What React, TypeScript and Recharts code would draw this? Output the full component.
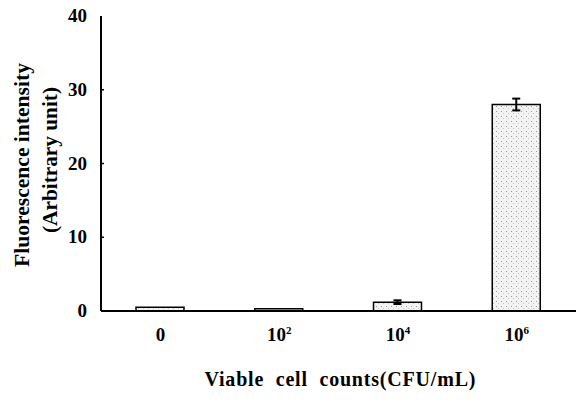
import { BarChart, Bar, XAxis, YAxis, ErrorBar } from "recharts";

const CATEGORIES = ["0", "10", "10", "10"];
const EXPONENTS = ["", "2", "4", "6"];
const VALUES = [0.5, 0.3, 1.2, 28.0];
const ERRORS = [0, 0, 0.25, 0.8];
const Y_TICKS = [0, 10, 20, 30, 40];

const data = CATEGORIES.map((c, i) => ({
  key: `c${i}`,
  base: c,
  exp: EXPONENTS[i],
  value: VALUES[i],
  err: ERRORS[i],
}));

const FONT = { fontFamily: "Liberation Serif, Times New Roman, serif", fontWeight: 700 };

function YTick({ x, y, payload }: { x?: number; y?: number; payload?: { value: number } }) {
  if (x == null || y == null || !payload) return null;
  return (
    <g>
      {payload.value > 0 && payload.value < 40 && (
        <line x1={x + 14} x2={x + 17} y1={y} y2={y} stroke="#000" strokeWidth={1.5} />
      )}
      <text x={x} y={y} dy={6} textAnchor="end" style={{ ...FONT, fontSize: 19 }} fill="#000">
        {payload.value}
      </text>
    </g>
  );
}

function XTick({ x, y, index }: { x?: number; y?: number; index?: number }) {
  if (x == null || y == null || index == null) return null;
  const d = data[index];
  return (
    <text x={x} y={y} dy={20} textAnchor="middle" style={{ ...FONT, fontSize: 19 }} fill="#000">
      {d.base}
      {d.exp && (
        <tspan dy={-7} style={{ fontSize: 11 }}>
          {d.exp}
        </tspan>
      )}
    </text>
  );
}

export default function App() {
  return (
    <div style={{ position: "absolute", left: 0, top: 0, background: "#fff" }}>
      <BarChart width={577} height={403} data={data} margin={{ top: 16, right: 1, left: 0, bottom: 0 }} barSize={48}>
        <defs>
          <pattern id="dots" width="5" height="5" patternUnits="userSpaceOnUse">
            <rect width="5" height="5" fill="#f3f3f3" />
            <rect x="1" y="1" width="1" height="1" fill="#9a9a9a" />
            <rect x="3" y="3" width="1" height="1" fill="#c4c4c4" />
          </pattern>
        </defs>
        <XAxis
          dataKey="key"
          height={92}
          tickLine={false}
          axisLine={{ stroke: "#000", strokeWidth: 2 }}
          tick={<XTick />}
          tickMargin={4}
          interval={0}
          label={{
            content: () => (
              <text
                x={340}
                y={386}
                textAnchor="middle"
                textLength={271}
                lengthAdjust="spacing"
                style={{ ...FONT, fontSize: 20 }}
                fill="#000"
              >
                {"Viable\u00A0\u00A0cell\u00A0\u00A0counts(CFU/mL)"}
              </text>
            ),
          }}
        />
        <XAxis xAxisId="top" dataKey="key" orientation="top" height={0} tick={false} tickLine={false} axisLine={{ stroke: "#000", strokeWidth: 1.5 }} />
        <YAxis
          domain={[0, 40]}
          ticks={Y_TICKS}
          width={101}
          tickSize={0}
          tickMargin={14}
          axisLine={{ stroke: "#000", strokeWidth: 2 }}
          tick={<YTick />}
          label={{
            content: () => (
              <g style={{ ...FONT, fontSize: 20 }} fill="#000">
                <text x={29} y={165} textAnchor="middle" textLength={204} lengthAdjust="spacingAndGlyphs" transform="rotate(-90 29 165)">
                  Fluorescence intensity
                </text>
                <text x={57} y={160} textAnchor="middle" textLength={146} lengthAdjust="spacingAndGlyphs" transform="rotate(-90 57 160)">
                  (Arbitrary unit)
                </text>
              </g>
            ),
          }}
        />
        <YAxis yAxisId="right" orientation="right" width={0} domain={[0, 40]} tick={false} tickLine={false} axisLine={{ stroke: "#555", strokeWidth: 1 }} />
        <Bar dataKey="value" fill="url(#dots)" stroke="#000" strokeWidth={1.5} isAnimationActive={false}>
          <ErrorBar dataKey="err" width={4} stroke="#000" strokeWidth={2} />
        </Bar>
      </BarChart>
    </div>
  );
}
